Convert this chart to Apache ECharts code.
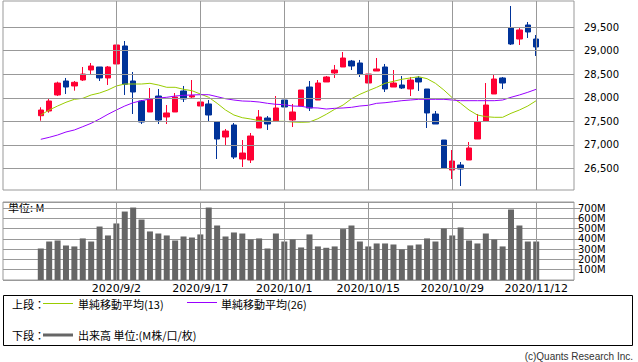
<!DOCTYPE html>
<html><head><meta charset="utf-8">
<script src="https://cdn.jsdelivr.net/npm/echarts@6/dist/echarts.min.js"></script>
<style>html,body{margin:0;padding:0;background:#fff}#c{width:638px;height:362px}</style>
</head><body><div id="c"></div>
<script>
const dates = ['2020/8/20','2020/8/21','2020/8/24','2020/8/25','2020/8/26','2020/8/27','2020/8/28','2020/8/31','2020/9/1','2020/9/2',
'2020/9/3','2020/9/4','2020/9/8','2020/9/9','2020/9/10','2020/9/11','2020/9/14','2020/9/15','2020/9/16','2020/9/17',
'2020/9/18','2020/9/21','2020/9/22','2020/9/23','2020/9/24','2020/9/25','2020/9/28','2020/9/29','2020/9/30','2020/10/1',
'2020/10/2','2020/10/5','2020/10/6','2020/10/7','2020/10/8','2020/10/9','2020/10/12','2020/10/13','2020/10/14','2020/10/15',
'2020/10/16','2020/10/19','2020/10/20','2020/10/21','2020/10/22','2020/10/23','2020/10/26','2020/10/27','2020/10/28','2020/10/29',
'2020/10/30','2020/11/2','2020/11/3','2020/11/4','2020/11/5','2020/11/6','2020/11/9','2020/11/10','2020/11/11','2020/11/12'];
const opens = [27621,27721,28061,28358,28252,28379,28591,28655,28422,28719,
29101,28358,27933,27700,28039,27594,27700,28146,28018,27827,
27870,27487,27169,27424,26702,26681,27360,27572,27509,27954,
27530,27827,28230,27954,28337,28528,28655,28782,28740,28315,
28570,28655,28230,28273,28188,28422,28188,27657,27105,26468,
26575,26681,27126,27509,28082,28422,29483,29249,29547,29249];
const closes = [27742,27933,28315,28230,28330,28506,28676,28422,28655,29122,
28288,28124,27487,27976,27530,27679,28018,27976,28046,27912,
27636,27126,27296,26744,26829,27190,27594,27445,27785,27806,
27700,28167,27785,28315,28443,28591,28846,28676,28506,28506,
28613,28188,28315,28209,28379,28337,27679,27445,26511,26659,
26490,26936,27487,27848,28400,28315,29143,29441,29398,29080];
const lows = [27515,27685,28039,28082,28152,28358,28485,28358,28273,28719,
28061,27657,27445,27700,27445,27445,27700,27912,27976,27636,
27487,26702,26978,26702,26532,26617,27360,27318,27509,27657,
27381,27827,27721,27954,28337,28422,28655,28591,28443,28209,
28570,28124,28230,28188,28039,28146,27360,27445,26490,26277,
26129,26681,27126,27509,28082,28188,29122,29122,29271,28889];
const highs = [27800,27976,28343,28422,28358,28655,28740,28655,28676,29186,
29207,28549,27954,28209,28188,27848,28103,28252,28379,27912,
27954,27487,27339,27466,27105,27254,27742,27615,28039,28061,
27870,28167,28358,28379,28464,28698,28973,28804,28804,28549,
28846,28719,28591,28464,28443,28464,28188,27721,27105,26893,
26638,27063,27657,28315,28506,28443,29950,29483,29610,29334];
const ma13 = [27636,27742,27827,27906,27969,27990,28061,28103,28167,28252,
28294,28294,28294,28309,28273,28224,28224,28182,28152,28082,
28012,27884,27742,27636,27579,27551,27515,27502,27502,27502,
27487,27481,27487,27557,27651,27757,27848,27982,28075,28152,
28224,28309,28351,28394,28422,28449,28407,28309,28167,28003,
27884,27742,27636,27600,27587,27587,27672,27742,27827,27940];
const ma26 = [27120,27162,27211,27275,27318,27388,27460,27551,27651,27742,
27827,27897,27940,27976,27997,28012,28039,28054,28061,28067,
28067,28025,27982,27954,27933,27927,27912,27884,27863,27855,
27827,27821,27791,27785,27763,27778,27785,27799,27827,27842,
27884,27897,27918,27940,27954,27969,27969,27969,27969,27954,
27940,27940,27940,27940,27940,27954,28012,28061,28118,28182];
const volumes = [307,375,385,337,327,405,375,521,434,551,
667,706,589,473,453,434,385,424,414,444,
706,531,424,463,453,395,405,307,453,375,
395,317,444,327,314,327,496,531,375,327,
356,356,346,298,337,346,405,375,502,434,
512,385,356,453,395,327,687,531,375,375];
const labelDates = ['2020/9/2','2020/9/17','2020/10/1','2020/10/15','2020/10/29','2020/11/12'];
const priceTicks = [26500,27000,27500,28000,28500,29000,29500];
const volumeTicks = [100,200,300,400,500,600,700];

const PADL = 4, PADR = 4;
const cats = [];
for (let i = 0; i < PADL; i++) cats.push('pre' + i);
dates.forEach(d => cats.push(d));
for (let i = 0; i < PADR; i++) cats.push('post' + i);
const padArr = arr => [...Array(PADL).fill('-'), ...arr, ...Array(PADR).fill('-')];
const candle = padArr(dates.map((d, i) => [opens[i], closes[i], lows[i], highs[i]]));

const RED = '#ff0033', BLUE = '#003399', GRID = '#999999';
const FONT = 'DejaVu Sans';
const JP = '"Noto Sans CJK JP", sans-serif';
const lineBase = { silent: true, symbol: ['none', 'none'], label: { show: false },
  lineStyle: { color: GRID, type: 'solid', width: 1 }, emphasis: { disabled: true }, animation: false };
const markV = Object.assign({}, lineBase, { data: labelDates.map(d => ({ xAxis: d })) });
const markVH = Object.assign({}, lineBase, { data: [...labelDates.map(d => ({ xAxis: d })), ...priceTicks.map(v => ({ yAxis: v }))] });

const chart = echarts.init(document.getElementById('c'), null, { renderer: 'svg' });
chart.setOption({
  animation: false,
  backgroundColor: '#fff',
  grid: [
    { left: 3, top: 1, width: 571, height: 189, show: true, borderColor: GRID, borderWidth: 1, containLabel: false },
    { left: 3, top: 202, width: 571, height: 78, show: true, borderColor: GRID, borderWidth: 1, containLabel: false }
  ],
  xAxis: [
    { type: 'category', gridIndex: 0, data: cats, boundaryGap: true,
      axisLine: { show: false }, axisTick: { show: false }, axisLabel: { show: false }, splitLine: { show: false } },
    { type: 'category', gridIndex: 1, data: cats, boundaryGap: true,
      axisLine: { show: false }, axisTick: { show: false }, splitLine: { show: false },
      axisLabel: { interval: (i, v) => labelDates.includes(v), formatter: v => labelDates.includes(v) ? v : '',
        fontSize: 11, lineHeight: 11, fontFamily: FONT, color: '#000', margin: 3 } }
  ],
  yAxis: [
    { type: 'value', gridIndex: 0, position: 'right', min: 26044, max: 30056, splitNumber: 8, scale: true,
      axisLine: { show: false }, axisTick: { show: false },
      splitLine: { show: false },
      axisLabel: { showMinLabel: false, showMaxLabel: false, fontSize: 10, fontFamily: FONT, color: '#000', margin: 10,
        formatter: v => priceTicks.includes(v) ? v.toLocaleString('en-US') : '' } },
    { type: 'value', gridIndex: 1, position: 'right', min: 0, max: 760, interval: 100,
      axisLine: { show: false },
      axisTick: { show: true, length: 6, lineStyle: { color: GRID } },
      splitLine: { show: true, lineStyle: { color: GRID, width: 1 } },
      axisLabel: { showMinLabel: false, showMaxLabel: false, fontSize: 10, fontFamily: FONT, color: '#000', margin: 4,
        formatter: v => volumeTicks.includes(v) ? v + 'M' : '' } }
  ],
  series: [
    { type: 'line', xAxisIndex: 0, yAxisIndex: 0, data: [], z: 1, markLine: markVH },
    { type: 'line', xAxisIndex: 1, yAxisIndex: 1, data: [], z: 1, markLine: markV },
    { type: 'candlestick', name: 'price', xAxisIndex: 0, yAxisIndex: 0, data: candle, barWidth: 6, z: 3,
      itemStyle: { color: RED, color0: BLUE, borderColor: RED, borderColor0: BLUE, borderWidth: 1 } },
    { type: 'line', name: '単純移動平均(13)', xAxisIndex: 0, yAxisIndex: 0, data: padArr(ma13), showSymbol: false, z: 4,
      lineStyle: { color: '#99cc00', width: 1 }, itemStyle: { color: '#99cc00' } },
    { type: 'line', name: '単純移動平均(26)', xAxisIndex: 0, yAxisIndex: 0, data: padArr(ma26), showSymbol: false, z: 4,
      lineStyle: { color: '#9900ff', width: 1 }, itemStyle: { color: '#9900ff' } },
    { type: 'bar', name: '出来高', xAxisIndex: 1, yAxisIndex: 1, data: padArr(volumes), barWidth: 6, z: 3,
      itemStyle: { color: '#666666' } }
  ],
  graphic: [
    { type: 'text', left: 8, top: 201, style: { text: '単位: M', fontSize: 11, fontFamily: JP, fill: '#000' } },
    { type: 'rect', shape: { x: 3.5, y: 295.5, width: 629, height: 50 }, style: { fill: 'none', stroke: '#000', lineWidth: 1 } },
    { type: 'text', x: 12, y: 304, style: { text: '上段：', fontSize: 11, lineHeight: 12, fontFamily: JP, fill: '#000', verticalAlign: 'middle' } },
    { type: 'line', shape: { x1: 43, y1: 303.5, x2: 73, y2: 303.5 }, style: { stroke: '#99cc00', lineWidth: 1 } },
    { type: 'text', x: 78, y: 304, style: { text: '単純移動平均(13)', fontSize: 11, lineHeight: 12, fontFamily: JP, fill: '#000', verticalAlign: 'middle' } },
    { type: 'line', shape: { x1: 187, y1: 302.5, x2: 217, y2: 302.5 }, style: { stroke: '#9900ff', lineWidth: 1 } },
    { type: 'text', x: 221, y: 304, style: { text: '単純移動平均(26)', fontSize: 11, lineHeight: 12, fontFamily: JP, fill: '#000', verticalAlign: 'middle' } },
    { type: 'text', x: 12, y: 335, style: { text: '下段：', fontSize: 11, lineHeight: 12, fontFamily: JP, fill: '#000', verticalAlign: 'middle' } },
    { type: 'line', shape: { x1: 43, y1: 335, x2: 73, y2: 335 }, style: { stroke: '#666666', lineWidth: 3 } },
    { type: 'text', x: 78, y: 335, style: { text: '出来高 単位:(M株/口/枚)', fontSize: 11, lineHeight: 12, fontFamily: JP, fill: '#000', verticalAlign: 'middle' } },
    { type: 'text', x: 633, y: 356, style: { text: '(c)Quants Research Inc.', fontSize: 10, fontFamily: 'Liberation Sans', fill: '#333', align: 'right', verticalAlign: 'middle' } }
  ]
});
</script></body></html>
